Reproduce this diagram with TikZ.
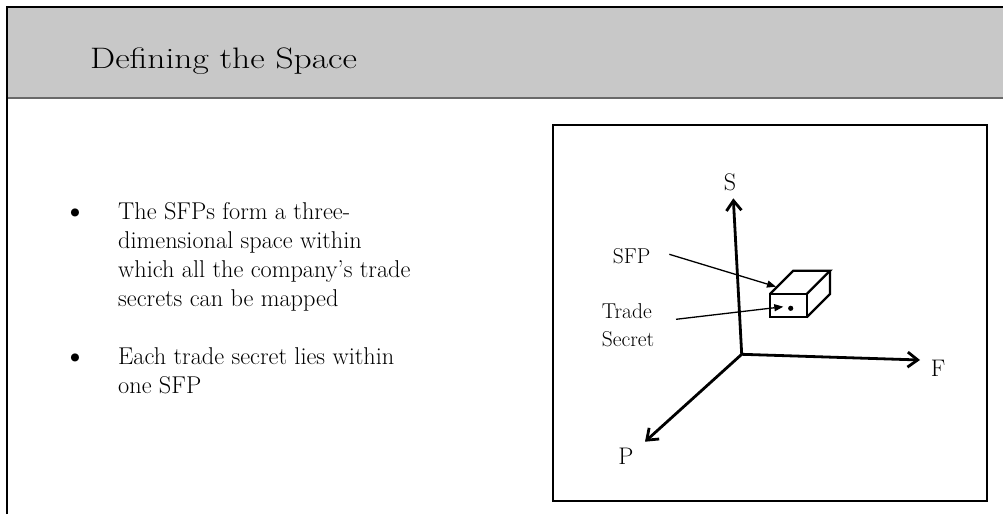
\documentclass[tikz,border=0pt]{standalone}
\usepackage{fontspec}
\usetikzlibrary{arrows.meta}
\newfontfamily\titlefont{Latin Modern Roman}[FakeStretch=1.2]
\definecolor{hdr}{RGB}{200,200,200}
\definecolor{hdrline}{RGB}{105,105,105}
\begin{document}
\begin{tikzpicture}[x=1pt,y=-1pt,
  bodytext/.style={anchor=base west, inner sep=0pt, font=\fontsize{24.3}{29}\selectfont},
  bulletmark/.style={anchor=base, inner sep=0pt, font=\fontsize{36}{40}\selectfont},
  axislabel/.style={anchor=base, inner sep=0pt, font=\fontsize{24}{28}\selectfont},
  smalllabel/.style={anchor=base west, inner sep=0pt, font=\fontsize{21.5}{28}\selectfont},
  axisline/.style={line width=2.8pt, -{Straight Barb[length=10pt,width=15pt]}},
  lblarrow/.style={line width=1.3pt, -{Triangle[length=9pt,width=7pt]}},
  boxline/.style={line width=2.3pt, line join=miter}
]
\useasboundingbox (0,0) rectangle (1003,514);
% header
\fill[hdr] (7,7) rectangle (1003,98);
\draw[hdrline, line width=1.5pt] (7,98) -- (1003,98);
\draw[line width=2.8pt] (7,514) -- (7,7) -- (1003,7);
\node[anchor=base west, inner sep=0pt, font=\titlefont\fontsize{29.6}{34}\selectfont] (title) at (90,68) {Defining the Space};
% bullets
\node[bulletmark] (bul1) at (75,222) {\textbullet};
\node[bodytext] (l1) at (118,219) {The SFPs form a three-};
\node[bodytext] (l2) at (118,248) {dimensional space within};
\node[bodytext] (l3) at (118,277) {which all the company’s trade};
\node[bodytext] (l4) at (118,306) {secrets can be mapped};
\node[bulletmark] (bul2) at (75,367) {\textbullet};
\node[bodytext] (l5) at (118,364) {Each trade secret lies within};
\node[bodytext] (l6) at (118,393) {one SFP};
% diagram frame
\draw[line width=2.8pt] (553,125) rectangle (987,501);
% axes
\coordinate (O) at (741.7,354.3);
\coordinate (Stip) at (733.3,198.3);
\coordinate (Ftip) at (920,360);
\coordinate (Ptip) at (645,441.7);
\draw[axisline] (O) -- (Stip);
\draw[axisline] (O) -- (Ftip);
\draw[axisline] (O) -- (Ptip);
\node[axislabel] (S) at (730,190) {S};
\node[axislabel] (F) at (938,376.5) {F};
\node[axislabel] (P) at (626,464.5) {P};
% box
\draw[boxline] (770,294) rectangle (806.7,317.3);
\draw[boxline] (770,294) -- (793.3,270.7) -- (830,270.7) -- (806.7,294);
\draw[boxline] (830,270.7) -- (830,294) -- (806.7,317.3);
\fill (790.7,308.3) circle (2.6pt);
% labels
\node[smalllabel] (sfp) at (612.7,263) {SFP};
\node[smalllabel] (trade) at (601.7,318.5) {Trade};
\node[smalllabel] (secret) at (601.7,346.5) {Secret};
\coordinate (sfpstart) at (669.3,254.3);
\coordinate (sfptip) at (776,286.7);
\coordinate (tsstart) at (676,319.3);
\coordinate (tstip) at (783.3,306.7);
\draw[lblarrow] (sfpstart) -- (sfptip);
\draw[lblarrow] (tsstart) -- (tstip);
\end{tikzpicture}
\end{document}
